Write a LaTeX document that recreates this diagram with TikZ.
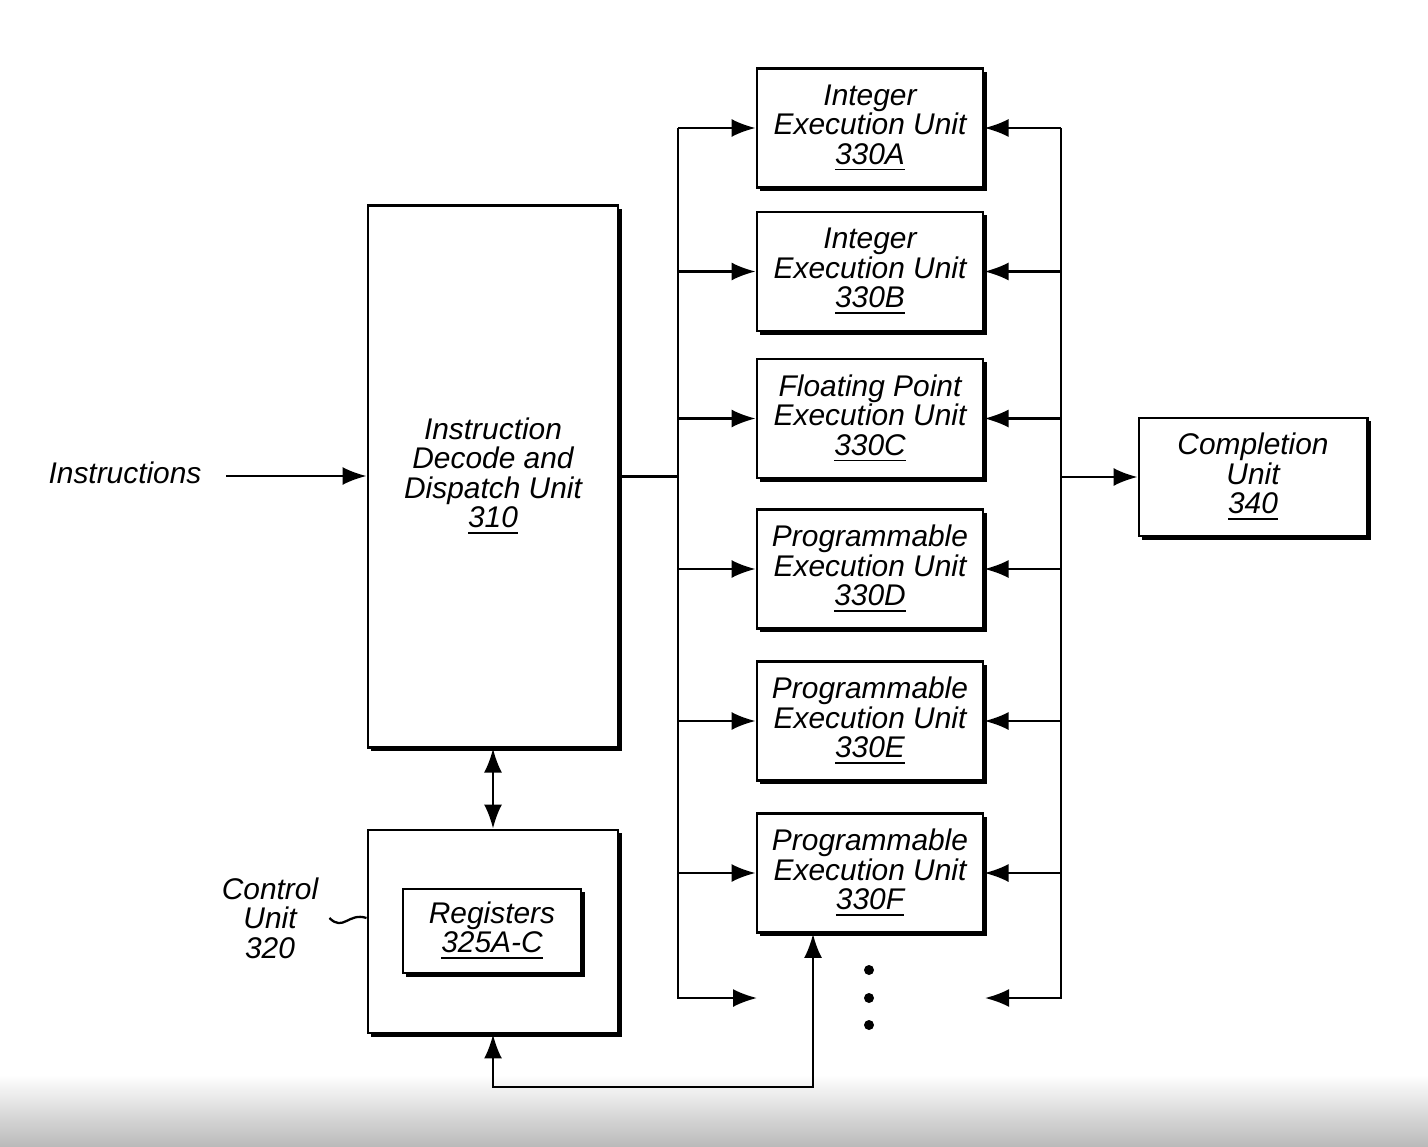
\documentclass[tikz,border=0pt]{standalone}
\usepackage{fontspec}
\setmainfont{Liberation Sans}
\usetikzlibrary{arrows.meta,shadows}

\tikzset{
  txt/.style={font=\itshape\fontsize{8.5}{8.4}\selectfont, align=center, inner sep=1pt},
  unit/.style={txt, draw, line width=0.8pt, fill=white, inner sep=0pt,
    drop shadow={shadow xshift=0.035cm, shadow yshift=-0.035cm, opacity=1, fill=black}},
  exec/.style={unit, minimum width=2.26cm, minimum height=1.19cm},
  bus/.style={line width=0.65pt},
}

\begin{document}
\begin{tikzpicture}[x=0.01cm,y=-0.01cm,>={Latex[length=0.24cm,width=0.18cm]}]
\useasboundingbox (0,0) rectangle (1428,1146);
\shade[top color=white,bottom color=black!27] (0,1075) rectangle (1428,1146);

% decode, control and registers
\node[unit, minimum width=2.5cm, minimum height=5.41cm] (idu) at (493,476.5)
  {Instruction\\Decode and\\Dispatch Unit\\\underline{310}};
\node[unit, minimum width=2.5cm, minimum height=2.03cm] (cu) at (493,931.5) {};
\node[unit, minimum width=1.78cm, minimum height=0.84cm] (reg) at (492,931)
  {Registers\\\underline{325A-C}};
\node[txt] (cul) at (270,918) {Control\\Unit\\320};
\draw[bus] ([xshift=2pt]cul.east) .. controls +(14,14) and +(-18,-6) .. (cu.west |- cul.east);

\node[txt] (ins) at (125,473) {Instructions};
\coordinate (insout) at (226,476);
\draw[bus,->] (insout) -- (insout -| idu.west);
\draw[bus,<->] (idu.south) -- (cu.north);

% execution units
\coordinate (lbus) at (678,0);
\coordinate (rbus) at (1061,0);
\foreach \n/\y/\k in {A/128/Integer, B/271.5/Integer, C/418.5/Floating Point,
                      D/569/Programmable, E/721/Programmable, F/873/Programmable}
  \node[exec] (eu\n) at (870,\y) {\k\\Execution Unit\\\underline{330\n}};

\node[unit, minimum width=2.28cm, minimum height=1.18cm] (cmp) at (1253,477)
  {Completion\\Unit\\\underline{340}};

\coordinate (lend) at (757,998);
\coordinate (rend) at (985,998);
\draw[bus] (idu.east) -- (idu.east -| lbus);
\draw[bus,->] (euA.west -| lbus) -- (lbus |- lend) -- (lend);
\draw[bus,->] (euA.east -| rbus) -- (rbus |- rend) -- (rend);
\foreach \n in {A,B,C,D,E,F} {
  \draw[bus,->] (eu\n.west -| lbus) -- (eu\n.west);
  \draw[bus,->] (eu\n.east -| rbus) -- (eu\n.east);
}
\draw[bus,->] (cmp.west -| rbus) -- (cmp.west);

\foreach \y in {970,998,1025} \fill (869,\y) circle (0.05cm);

% feedback to control unit
\coordinate (fb) at (813,1087);
\draw[bus,<->] (euF.south -| fb) -- (fb) -- (fb -| cu.south) -- (cu.south);
\end{tikzpicture}
\end{document}
